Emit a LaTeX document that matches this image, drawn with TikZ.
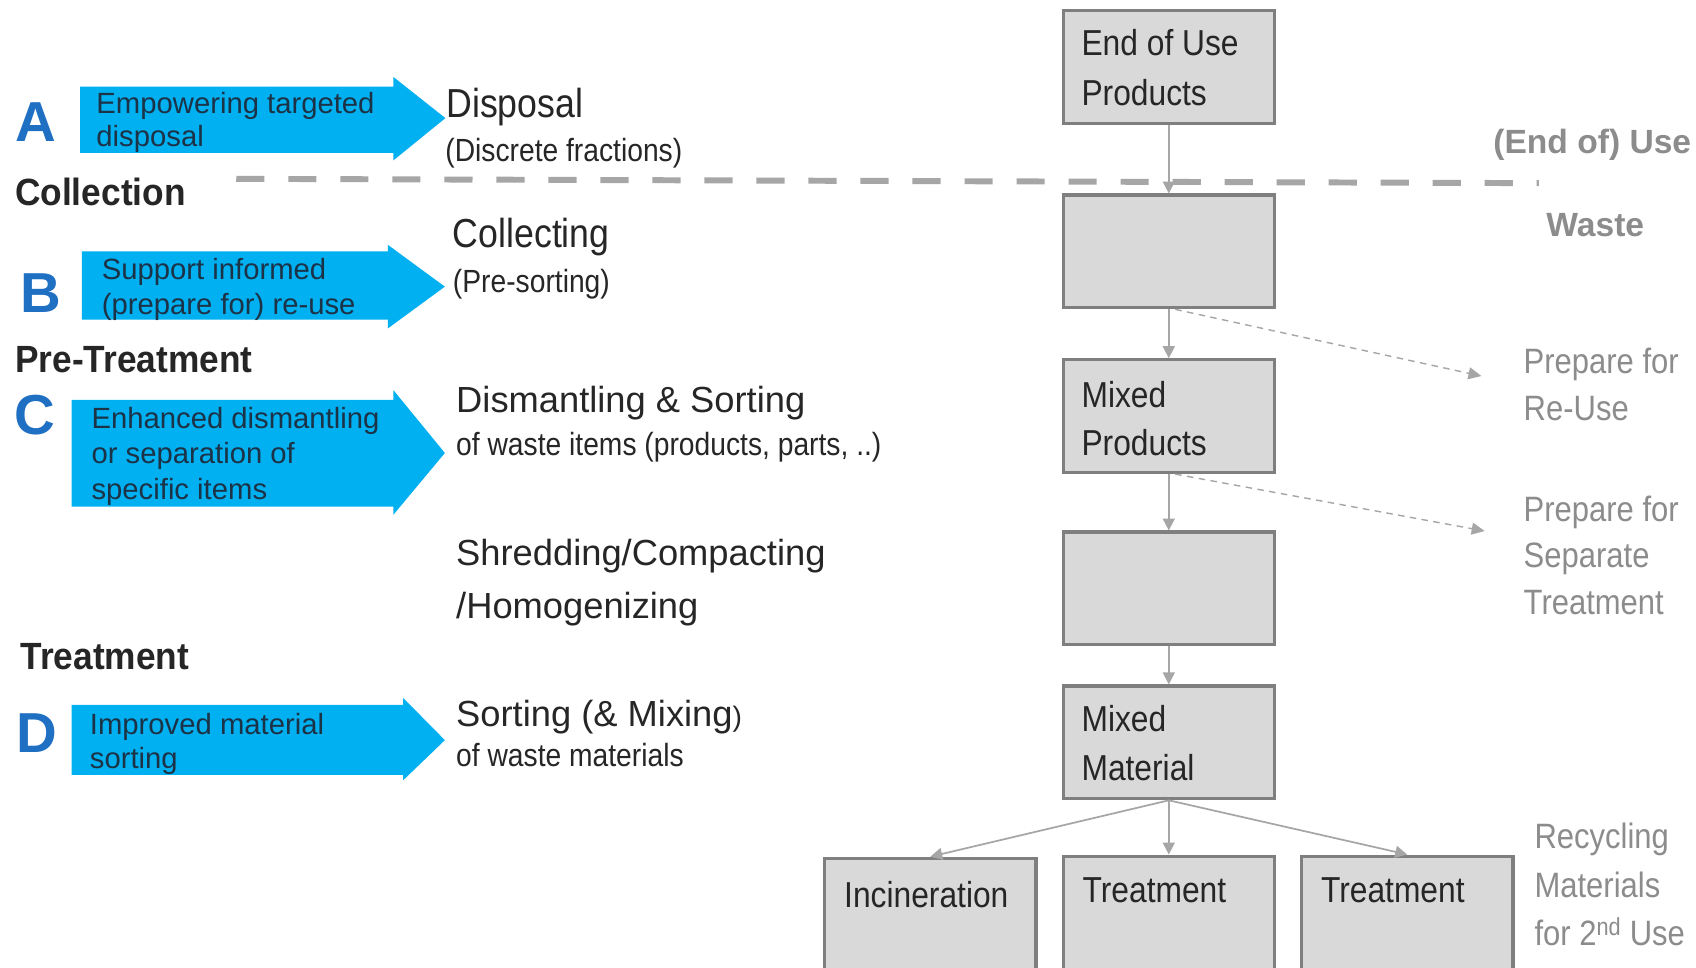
\documentclass[tikz,border=0pt]{standalone}
\usepackage{fontspec}
\setmainfont{Liberation Sans}
\newfontfamily\fnar{Liberation Sans}[FakeStretch=0.88]
\newfontfamily\fbnar{Liberation Sans}[FakeStretch=0.93]
\usetikzlibrary{arrows.meta,calc}
\definecolor{cyanA}{HTML}{00B0F0}
\definecolor{letterblue}{HTML}{1F6FC3}
\definecolor{navytext}{HTML}{1C3247}
\definecolor{boxfill}{HTML}{D9D9D9}
\definecolor{boxline}{HTML}{7F7F7F}
\definecolor{flowgray}{HTML}{A6A6A6}
\definecolor{softgray}{HTML}{8C8C8C}
\definecolor{darktext}{HTML}{262626}
\tikzset{
  txt/.style={anchor=base west,inner sep=0pt,outer sep=0pt,text=darktext},
  letter/.style={txt,text=letterblue,font=\bfseries\fontsize{52}{52}\selectfont},
  section/.style={txt,font=\fbnar\bfseries\fontsize{35}{35}\selectfont},
  arrowtxt/.style={txt,text=navytext,font=\fontsize{27}{27}\selectfont},
  stepbig/.style={txt,text=darktext,font=\fnar\fontsize{37.4}{37}\selectfont},
  stepsmall/.style={txt,text=darktext,font=\fnar\fontsize{29.6}{30}\selectfont},
  steptitle/.style={txt,text=darktext,font=\fontsize{33.5}{34}\selectfont},
  boxtxt/.style={txt,text=darktext,font=\fnar\fontsize{33.3}{34}\selectfont},
  sidetxt/.style={txt,text=softgray,font=\fnar\fontsize{32.5}{33}\selectfont},
  sidebold/.style={txt,text=softgray,font=\bfseries\fontsize{31}{31}\selectfont},
  flowbox/.style={draw=boxline,line width=3pt,fill=boxfill,minimum width=195pt,minimum height=104pt,inner sep=0pt},
  tallbox/.style={flowbox,minimum height=130pt},
  flowarrow/.style={draw=flowgray,line width=1.6pt,-{Triangle[length=11pt,width=11pt]}},
  dasharrow/.style={draw=flowgray,line width=1.3pt,dash pattern=on 6pt off 5pt,-{Triangle[length=12pt,width=11pt]}},
  sepline/.style={draw=flowgray,line width=5.5pt,dash pattern=on 26pt off 22pt},
  bluearrow/.style={fill=cyanA}
}
\begin{document}
\begin{tikzpicture}[x=1pt,y=-1pt]
\clip (0,0) rectangle (1565,893);
\fill[white] (0,0) rectangle (1565,893);

% separator line
\coordinate (sepL) at (218,165);
\coordinate (sepR) at (1420,169);
\draw[sepline] (sepL) -- (sepR);

% blue arrows
\fill[bluearrow] (74,80) -- (363,80) -- (363,71) -- (411,109) -- (363,148) -- (363,141) -- (74,141) -- cycle;
\fill[bluearrow] (75.5,232) -- (358,232) -- (358,226) -- (410.5,264.5) -- (358,303) -- (358,295) -- (75.5,295) -- cycle;
\fill[bluearrow] (66,369) -- (363,369) -- (363,360) -- (410.5,418) -- (363,475) -- (363,467.5) -- (66,467.5) -- cycle;
\fill[bluearrow] (66,650.5) -- (372,650.5) -- (372,644) -- (410.5,683) -- (372,720) -- (372,715) -- (66,715) -- cycle;

% letters
\node[letter] (lA) at (14,131) {A};
\node[letter] (lB) at (19,288) {B};
\node[letter] (lC) at (13,401) {C};
\node[letter] (lD) at (15,694) {D};

% section labels
\node[section] (sCol) at (14,190) {Collection};
\node[section] (sPre) at (14,344) {Pre-Treatment};
\node[section] (sTre) at (19,618) {Treatment};

% arrow texts
\node[arrowtxt] (tA1) at (89,105) {Empowering targeted};
\node[arrowtxt] (tA2) at (89,135) {disposal};
\node[arrowtxt] (tB1) at (94,258) {Support informed};
\node[arrowtxt] (tB2) at (94,290) {(prepare for) re-use};
\node[arrowtxt] (tC1) at (84.5,395) {Enhanced dismantling};
\node[arrowtxt] (tC2) at (84.5,428) {or separation of};
\node[arrowtxt] (tC3) at (84.5,461) {specific items};
\node[arrowtxt] (tD1) at (83,678) {Improved material};
\node[arrowtxt] (tD2) at (83,709) {sorting};

% middle step texts
\node[stepbig] (mDis) at (412,108) {Disposal};
\node[stepsmall] (mDis2) at (411,149) {(Discrete fractions)};
\node[stepbig] (mCol) at (418,228) {Collecting};
\node[stepsmall] (mCol2) at (418,270) {(Pre-sorting)};
\node[steptitle] (mDsm) at (421,381) {Dismantling \& Sorting};
\node[stepsmall] (mDsm2) at (421,420) {of waste items (products, parts, ..)};
\node[steptitle] (mShr) at (421,522) {Shredding/Compacting};
\node[steptitle] (mShr2) at (421,571) {/Homogenizing};
\node[steptitle] (mSor) at (421,670) {Sorting (\& Mixing{\fontsize{26}{26}\selectfont)}};
\node[stepsmall] (mSor2) at (421,707) {of waste materials};

% right labels
\node[sidebold] (rUse) at (1378,142) {(End of) Use};
\node[sidebold] (rWaste) at (1427,218) {Waste};
\node[sidetxt] (rP1) at (1406,345) {Prepare for};
\node[sidetxt] (rP2) at (1406,388) {Re-Use};
\node[sidetxt] (rS1) at (1406,481) {Prepare for};
\node[sidetxt] (rS2) at (1406,524) {Separate};
\node[sidetxt] (rS3) at (1406,567) {Treatment};
\node[sidetxt] (rR1) at (1416,783) {Recycling};
\node[sidetxt] (rR2) at (1416,828) {Materials};
\node[sidetxt] (rR3) at (1416,872) {for 2\textsuperscript{nd} Use};

% flow boxes
\node[flowbox] (b1) at (1078.5,62) {};
\node[flowbox] (b2) at (1078.5,232) {};
\node[flowbox] (b3) at (1078.5,384) {};
\node[flowbox] (b4) at (1078.5,543) {};
\node[flowbox] (b5) at (1078.5,685) {};
\node[tallbox] (b6) at (858.5,857) {};
\node[tallbox] (b7) at (1078.5,855) {};
\node[tallbox] (b8) at (1298.5,855) {};

% box texts
\node[boxtxt] (x1a) at (998,51) {End of Use};
\node[boxtxt] (x1b) at (998,97) {Products};
\node[boxtxt] (x3a) at (998,376) {Mixed};
\node[boxtxt] (x3b) at (998,420) {Products};
\node[boxtxt] (x5a) at (998,675) {Mixed};
\node[boxtxt] (x5b) at (998,720) {Material};
\node[boxtxt] (x6) at (779,837) {Incineration};
\node[boxtxt] (x7) at (999,833) {Treatment};
\node[boxtxt] (x8) at (1219,833) {Treatment};

% connectors
\draw[flowarrow] (b1.south) -- (b2.north);
\draw[flowarrow] (b2.south) -- (b3.north);
\draw[flowarrow] (b3.south) -- (b4.north);
\draw[flowarrow] (b4.south) -- (b5.north);
\draw[flowarrow] (b5.south) -- (b6.north);
\draw[flowarrow] (b5.south) -- (b7.north);
\draw[flowarrow] (b5.south) -- (b8.north);

\coordinate (d1s) at ($(b2.south)+(6,0)$);
\coordinate (d1e) at (1367,347);
\coordinate (d2s) at ($(b3.south)+(6,0)$);
\coordinate (d2e) at (1370,490);
\draw[dasharrow] (d1s) -- (d1e);
\draw[dasharrow] (d2s) -- (d2e);
\end{tikzpicture}
\end{document}
